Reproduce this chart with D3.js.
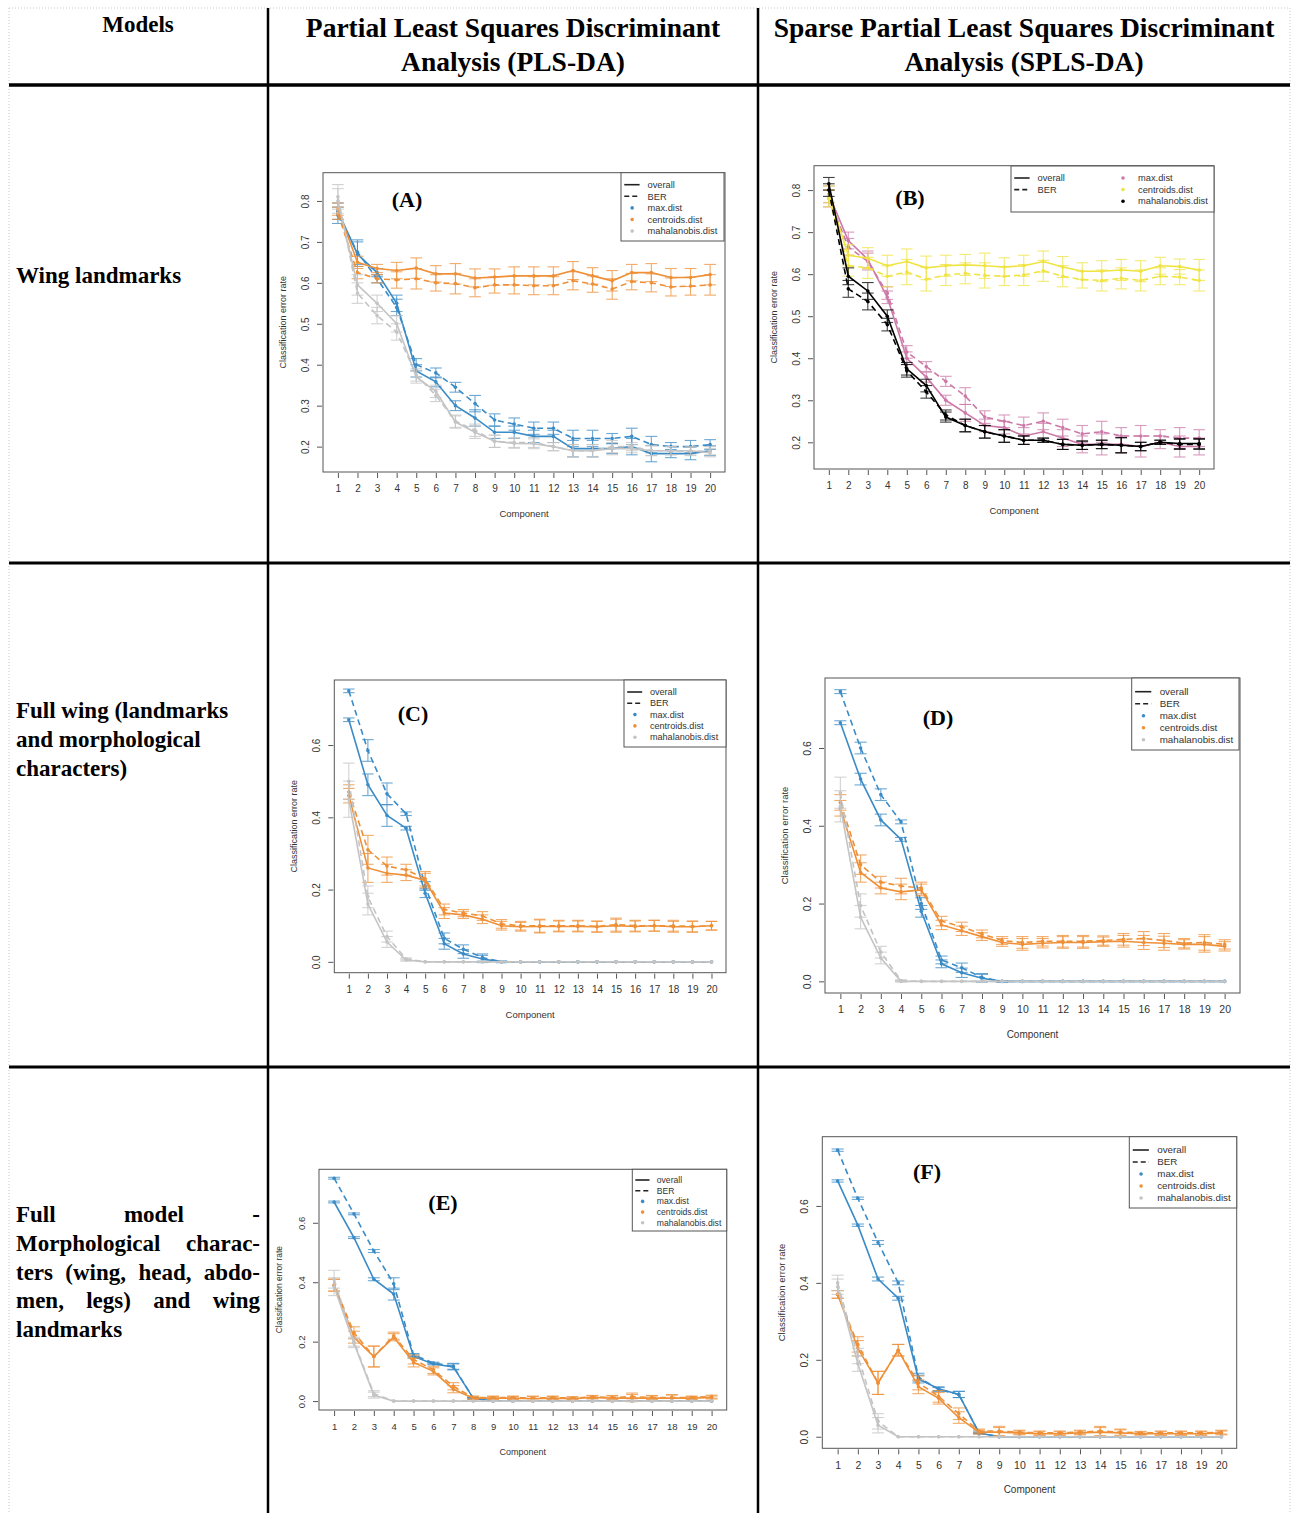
<!DOCTYPE html>
<html>
<head>
<meta charset="utf-8">
<script src="https://cdn.jsdelivr.net/npm/d3@7"></script>
<style>
    body { margin: 0; background: #fff; }
    svg { display: block; }
</style>
</head>
<body>
<div id="figure"></div>
<script>

// ---------- data ----------
const comps = [1, 2, 3, 4, 5, 6, 7, 8, 9, 10, 11, 12, 13, 14, 15, 16, 17, 18, 19, 20];
const ticksTop = [0.2, 0.3, 0.4, 0.5, 0.6, 0.7, 0.8];
const ticksLow = [0.0, 0.2, 0.4, 0.6];
const distNames = ["max.dist", "centroids.dist", "mahalanobis.dist"];

const colorsPLS = ["#3A8BC6", "#EE9038", "#C4C4C4"];
const colorsSPLS = ["#CC79A7", "#F0E442", "#000000"];

// (A) PLS-DA, wing landmarks
const aMaxOverall = [0.775, 0.67, 0.625, 0.55, 0.385, 0.358, 0.30, 0.27, 0.235, 0.235, 0.225, 0.225, 0.195, 0.195, 0.195, 0.20, 0.183, 0.183, 0.183, 0.19];
const aMaxBER = [0.765, 0.675, 0.61, 0.54, 0.40, 0.38, 0.345, 0.305, 0.265, 0.255, 0.245, 0.245, 0.22, 0.22, 0.22, 0.225, 0.205, 0.20, 0.20, 0.205];
const aMaxSd = [0.02, 0.03, 0.01, 0.02, 0.015, 0.012, 0.012, 0.02, 0.015, 0.015, 0.015, 0.015, 0.02, 0.02, 0.012, 0.02, 0.02, 0.01, 0.015, 0.012];
const aCentOverall = [0.78, 0.65, 0.635, 0.63, 0.636, 0.622, 0.622, 0.612, 0.614, 0.617, 0.617, 0.617, 0.63, 0.617, 0.605, 0.625, 0.625, 0.613, 0.613, 0.62];
const aCentBER = [0.77, 0.625, 0.61, 0.607, 0.61, 0.60, 0.598, 0.588, 0.595, 0.595, 0.593, 0.593, 0.605, 0.597, 0.585, 0.603, 0.60, 0.59, 0.592, 0.595];
const aCentSd = [0.015, 0.015, 0.01, 0.02, 0.025, 0.02, 0.025, 0.022, 0.02, 0.022, 0.022, 0.022, 0.022, 0.02, 0.025, 0.02, 0.022, 0.022, 0.022, 0.025];
const aMahaOverall = [0.80, 0.595, 0.55, 0.50, 0.37, 0.335, 0.26, 0.235, 0.213, 0.208, 0.207, 0.20, 0.19, 0.19, 0.195, 0.195, 0.19, 0.19, 0.19, 0.185];
const aMahaBER = [0.81, 0.575, 0.52, 0.48, 0.375, 0.325, 0.262, 0.24, 0.213, 0.21, 0.21, 0.20, 0.19, 0.19, 0.20, 0.20, 0.19, 0.19, 0.188, 0.19];
const aMahaSd = [0.03, 0.025, 0.02, 0.02, 0.015, 0.015, 0.015, 0.015, 0.015, 0.012, 0.012, 0.01, 0.015, 0.015, 0.015, 0.01, 0.012, 0.01, 0.01, 0.01];

// (B) SPLS-DA, wing landmarks
const bMaxOverall = [0.79, 0.68, 0.635, 0.545, 0.40, 0.355, 0.30, 0.27, 0.24, 0.235, 0.215, 0.225, 0.21, 0.195, 0.195, 0.195, 0.19, 0.20, 0.19, 0.19];
const bMaxBER = [0.78, 0.665, 0.63, 0.555, 0.415, 0.38, 0.345, 0.31, 0.26, 0.25, 0.24, 0.25, 0.235, 0.22, 0.225, 0.215, 0.215, 0.215, 0.21, 0.21];
const bMaxSd = [0.02, 0.02, 0.02, 0.015, 0.015, 0.012, 0.012, 0.02, 0.015, 0.015, 0.02, 0.02, 0.02, 0.02, 0.025, 0.02, 0.025, 0.015, 0.025, 0.02];
const bCentOverall = [0.79, 0.645, 0.638, 0.62, 0.63, 0.615, 0.62, 0.622, 0.62, 0.617, 0.62, 0.63, 0.617, 0.607, 0.607, 0.61, 0.607, 0.62, 0.618, 0.61];
const bCentBER = [0.78, 0.62, 0.615, 0.595, 0.605, 0.588, 0.598, 0.602, 0.597, 0.595, 0.598, 0.608, 0.595, 0.587, 0.585, 0.59, 0.585, 0.595, 0.593, 0.585];
const bCentSd = [0.02, 0.025, 0.025, 0.025, 0.03, 0.028, 0.025, 0.025, 0.03, 0.022, 0.025, 0.025, 0.025, 0.02, 0.025, 0.025, 0.025, 0.02, 0.018, 0.025];
const bMahaOverall = [0.815, 0.595, 0.56, 0.50, 0.375, 0.335, 0.26, 0.24, 0.225, 0.215, 0.205, 0.205, 0.195, 0.193, 0.195, 0.193, 0.19, 0.20, 0.197, 0.197];
const bMahaBER = [0.80, 0.565, 0.535, 0.48, 0.37, 0.32, 0.265, 0.24, 0.225, 0.215, 0.205, 0.205, 0.195, 0.193, 0.195, 0.193, 0.19, 0.20, 0.195, 0.195];
const bMahaSd = [0.015, 0.02, 0.02, 0.015, 0.015, 0.015, 0.012, 0.015, 0.015, 0.015, 0.01, 0.005, 0.012, 0.01, 0.01, 0.018, 0.01, 0.005, 0.012, 0.012];

// (C) PLS-DA, full wing
const cMaxOverall = [0.67, 0.49, 0.405, 0.37, 0.19, 0.05, 0.022, 0.008, 0, 0, 0, 0, 0, 0, 0, 0, 0, 0, 0, 0];
const cMaxBER = [0.75, 0.585, 0.465, 0.41, 0.21, 0.065, 0.035, 0.012, 0, 0, 0, 0, 0, 0, 0, 0, 0, 0, 0, 0];
const cMaxSd = [0.005, 0.03, 0.03, 0.005, 0.012, 0.015, 0.012, 0.01, 0.002, 0, 0, 0, 0, 0, 0, 0, 0, 0, 0, 0];
const cCentOverall = [0.46, 0.26, 0.245, 0.24, 0.225, 0.135, 0.13, 0.118, 0.10, 0.097, 0.098, 0.098, 0.098, 0.097, 0.10, 0.098, 0.10, 0.097, 0.097, 0.10];
const cCentBER = [0.47, 0.31, 0.265, 0.255, 0.23, 0.145, 0.135, 0.127, 0.105, 0.10, 0.10, 0.10, 0.10, 0.098, 0.103, 0.10, 0.10, 0.10, 0.098, 0.10];
const cCentSd = [0.02, 0.04, 0.025, 0.015, 0.02, 0.015, 0.01, 0.012, 0.012, 0.012, 0.018, 0.015, 0.015, 0.015, 0.018, 0.015, 0.015, 0.015, 0.015, 0.012];
const cMahaOverall = [0.45, 0.16, 0.055, 0.005, 0, 0, 0, 0, 0, 0, 0, 0, 0, 0, 0, 0, 0, 0, 0, 0];
const cMahaBER = [0.50, 0.18, 0.07, 0.008, 0, 0, 0, 0, 0, 0, 0, 0, 0, 0, 0, 0, 0, 0, 0, 0];
const cMahaSd = [0.05, 0.03, 0.015, 0.003, 0, 0, 0, 0, 0, 0, 0, 0, 0, 0, 0, 0, 0, 0, 0, 0];

// (D) SPLS-DA, full wing
const dMaxOverall = [0.665, 0.52, 0.415, 0.365, 0.18, 0.045, 0.022, 0.008, 0, 0, 0, 0, 0, 0, 0, 0, 0, 0, 0, 0];
const dMaxBER = [0.745, 0.60, 0.48, 0.41, 0.20, 0.055, 0.035, 0.01, 0, 0, 0, 0, 0, 0, 0, 0, 0, 0, 0, 0];
const dMaxSd = [0.005, 0.015, 0.015, 0.005, 0.015, 0.01, 0.012, 0.01, 0.002, 0, 0, 0, 0, 0, 0, 0, 0, 0, 0, 0];
const dCentOverall = [0.445, 0.28, 0.24, 0.23, 0.235, 0.145, 0.13, 0.115, 0.10, 0.095, 0.098, 0.10, 0.10, 0.102, 0.103, 0.10, 0.098, 0.095, 0.095, 0.09];
const dCentBER = [0.46, 0.30, 0.255, 0.245, 0.24, 0.155, 0.14, 0.122, 0.105, 0.10, 0.103, 0.103, 0.103, 0.105, 0.108, 0.11, 0.105, 0.098, 0.10, 0.095];
const dCentSd = [0.02, 0.025, 0.015, 0.02, 0.015, 0.012, 0.012, 0.01, 0.01, 0.015, 0.012, 0.015, 0.015, 0.012, 0.015, 0.018, 0.018, 0.012, 0.02, 0.012];
const dMahaOverall = [0.45, 0.165, 0.06, 0, 0, 0, 0, 0, 0, 0, 0, 0, 0, 0, 0, 0, 0, 0, 0, 0];
const dMahaBER = [0.485, 0.195, 0.075, 0.002, 0, 0, 0, 0, 0, 0, 0, 0, 0, 0, 0, 0, 0, 0, 0, 0];
const dMahaSd = [0.04, 0.03, 0.015, 0.002, 0, 0, 0, 0, 0, 0, 0, 0, 0, 0, 0, 0, 0, 0, 0, 0];

// (E) PLS-DA, full model
const eMaxOverall = [0.67, 0.55, 0.41, 0.36, 0.15, 0.125, 0.115, 0.01, 0, 0, 0, 0, 0, 0, 0, 0, 0, 0, 0, 0];
const eMaxBER = [0.75, 0.63, 0.505, 0.395, 0.155, 0.128, 0.117, 0.01, 0, 0, 0, 0, 0, 0, 0, 0, 0, 0, 0, 0];
const eMaxSd = [0.003, 0.003, 0.005, 0.02, 0.005, 0.003, 0.01, 0.002, 0, 0, 0, 0, 0, 0, 0, 0, 0, 0, 0, 0];
const eCentOverall = [0.39, 0.215, 0.15, 0.215, 0.13, 0.10, 0.04, 0.01, 0.01, 0.01, 0.008, 0.01, 0.008, 0.012, 0.01, 0.01, 0.01, 0.01, 0.01, 0.012];
const eCentBER = [0.39, 0.23, 0.15, 0.22, 0.14, 0.105, 0.05, 0.012, 0.012, 0.012, 0.01, 0.012, 0.01, 0.014, 0.012, 0.015, 0.012, 0.012, 0.012, 0.015];
const eCentSd = [0.02, 0.02, 0.035, 0.012, 0.015, 0.012, 0.012, 0.005, 0.005, 0.005, 0.007, 0.005, 0.005, 0.005, 0.007, 0.012, 0.007, 0.01, 0.005, 0.005];
const eMahaOverall = [0.385, 0.195, 0.02, 0, 0, 0, 0, 0, 0, 0, 0, 0, 0, 0, 0, 0, 0, 0, 0, 0];
const eMahaBER = [0.41, 0.20, 0.025, 0, 0, 0, 0, 0, 0, 0, 0, 0, 0, 0, 0, 0, 0, 0, 0, 0];
const eMahaSd = [0.03, 0.015, 0.01, 0, 0, 0, 0, 0, 0, 0, 0, 0, 0, 0, 0, 0, 0, 0, 0, 0];

// (F) SPLS-DA, full model
const fMaxOverall = [0.665, 0.55, 0.41, 0.36, 0.15, 0.125, 0.11, 0.01, 0, 0, 0, 0, 0, 0, 0, 0, 0, 0, 0, 0];
const fMaxBER = [0.745, 0.62, 0.505, 0.40, 0.155, 0.123, 0.11, 0.01, 0, 0, 0, 0, 0, 0, 0, 0, 0, 0, 0, 0];
const fMaxSd = [0.003, 0.003, 0.005, 0.005, 0.01, 0.005, 0.008, 0.002, 0, 0, 0, 0, 0, 0, 0, 0, 0, 0, 0, 0];
const fCentOverall = [0.37, 0.23, 0.14, 0.225, 0.13, 0.10, 0.05, 0.012, 0.012, 0.01, 0.008, 0.008, 0.01, 0.012, 0.01, 0.008, 0.008, 0.008, 0.008, 0.01];
const fCentBER = [0.37, 0.24, 0.14, 0.225, 0.14, 0.105, 0.06, 0.015, 0.015, 0.012, 0.01, 0.01, 0.012, 0.015, 0.012, 0.01, 0.01, 0.01, 0.01, 0.012];
const fCentSd = [0.01, 0.02, 0.03, 0.015, 0.018, 0.015, 0.015, 0.005, 0.012, 0.005, 0.005, 0.005, 0.005, 0.012, 0.008, 0.004, 0.005, 0.005, 0.005, 0.005];
const fMahaOverall = [0.39, 0.19, 0.03, 0, 0, 0, 0, 0, 0, 0, 0, 0, 0, 0, 0, 0, 0, 0, 0, 0];
const fMahaBER = [0.40, 0.21, 0.04, 0, 0, 0, 0, 0, 0, 0, 0, 0, 0, 0, 0, 0, 0, 0, 0, 0];
const fMahaSd = [0.02, 0.02, 0.02, 0, 0, 0, 0, 0, 0, 0, 0, 0, 0, 0, 0, 0, 0, 0, 0, 0];

// ---------- table layout ----------
const W = 1295, H = 1513;
const colX = [9, 268, 758, 1290];
const rowY = [8, 85, 563, 1067, 1513];

const svg = d3.select("#figure").append("svg")
    .attr("width", W)
    .attr("height", H);

// dotted outer border
svg.append("line").attr("x1", colX[0]).attr("x2", colX[3]).attr("y1", rowY[0]).attr("y2", rowY[0])
    .attr("stroke", "#c8c8c8").attr("stroke-dasharray", "1,2");
[colX[0], colX[3]].forEach(xx => {
    svg.append("line").attr("x1", xx).attr("x2", xx).attr("y1", rowY[0]).attr("y2", H)
        .attr("stroke", "#c8c8c8").attr("stroke-dasharray", "1,2");
});

// solid grid lines
[colX[1], colX[2]].forEach(xx => {
    svg.append("line").attr("x1", xx).attr("x2", xx).attr("y1", rowY[0]).attr("y2", H)
        .attr("stroke", "#000").attr("stroke-width", 2.5);
});
[rowY[1], rowY[2], rowY[3]].forEach((yy, i) => {
    svg.append("line").attr("x1", colX[0]).attr("x2", colX[3]).attr("y1", yy).attr("y2", yy)
        .attr("stroke", "#000").attr("stroke-width", i === 0 ? 3.5 : 3);
});

// header texts
const serif = "'Liberation Serif', 'Times New Roman', serif";
function headText(str, cx, by, size) {
    svg.append("text")
        .attr("x", cx).attr("y", by)
        .attr("text-anchor", "middle")
        .attr("font-family", serif)
        .attr("font-weight", "bold")
        .attr("font-size", size)
        .text(str);
}
headText("Models", 138, 32, 23);
headText("Partial Least Squares Discriminant", 513, 37, 27.5);
headText("Analysis (PLS-DA)", 513, 71, 27.5);
headText("Sparse Partial Least Squares Discriminant", 1024, 37, 27.5);
headText("Analysis (SPLS-DA)", 1024, 71, 27.5);

// row labels
function rowText(str, by) {
    return svg.append("text")
        .attr("x", 16).attr("y", by)
        .attr("font-family", serif)
        .attr("font-weight", "bold")
        .attr("font-size", 23)
        .text(str);
}
rowText("Wing landmarks", 283);
rowText("Full wing (landmarks", 718);
rowText("and morphological", 747);
rowText("characters)", 776);

// justified block for the last row
function justified(words, by, x0, x1) {
    let nodes = words.map(w => svg.append("text")
        .attr("y", by)
        .attr("font-family", serif)
        .attr("font-weight", "bold")
        .attr("font-size", 23)
        .text(w));
    let widths = nodes.map(n => n.node().getComputedTextLength());
    let gap = (x1 - x0 - d3.sum(widths)) / (words.length - 1);
    let cur = x0;
    nodes.forEach((n, i) => {
        n.attr("x", cur);
        cur += widths[i] + gap;
    });
}
justified(["Full", "model", "-"], 1222, 16, 260);
justified(["Morphological", "charac-"], 1251, 16, 260);
justified(["ters", "(wing,", "head,", "abdo-"], 1280, 16, 260);
justified(["men,", "legs)", "and", "wing"], 1308, 16, 260);
rowText("landmarks", 1337);

// ---------- panels ----------
const panels = [
    {label: "(A)", labelPos: [407, 207], box: [323, 172.7, 725, 472], yDomain: [0.138, 0.869], ticks: ticksTop, fs: 10,
     colors: colorsPLS,
     series: [[aMaxOverall, aMaxBER, aMaxSd], [aCentOverall, aCentBER, aCentSd], [aMahaOverall, aMahaBER, aMahaSd]],
     legend: {x: 621, y: 172.7, w: 103, h: 68.3, row0: 184.7, dy: 11.6, fs: 9.3}},
    {label: "(B)", labelPos: [910, 205], box: [814, 165.7, 1214, 469], yDomain: [0.1365, 0.858], ticks: ticksTop, fs: 10,
     colors: colorsSPLS,
     series: [[bMaxOverall, bMaxBER, bMaxSd], [bCentOverall, bCentBER, bCentSd], [bMahaOverall, bMahaBER, bMahaSd]],
     legend: {x: 1011, y: 166, w: 203, h: 46, row0: 178, dy: 11.6, fs: 9.3, twoCol: true}},
    {label: "(C)", labelPos: [413, 721], box: [334.3, 680, 726, 972.7], yDomain: [-0.03, 0.78], ticks: ticksLow, fs: 10,
     colors: colorsPLS,
     series: [[cMaxOverall, cMaxBER, cMaxSd], [cCentOverall, cCentBER, cCentSd], [cMahaOverall, cMahaBER, cMahaSd]],
     legend: {x: 624, y: 680, w: 102, h: 67, row0: 692, dy: 11.3, fs: 9.1}},
    {label: "(D)", labelPos: [938, 725], box: [825, 678, 1240, 993], yDomain: [-0.03, 0.78], ticks: ticksLow, fs: 10.5,
     colors: colorsPLS,
     series: [[dMaxOverall, dMaxBER, dMaxSd], [dCentOverall, dCentBER, dCentSd], [dMahaOverall, dMahaBER, dMahaSd]],
     legend: {x: 1131.7, y: 678, w: 107.3, h: 72, row0: 691.7, dy: 12, fs: 9.8}},
    {label: "(E)", labelPos: [443, 1210], box: [319, 1169.3, 726.7, 1410], yDomain: [-0.03, 0.78], ticks: ticksLow, fs: 9.5,
     colors: colorsPLS,
     series: [[eMaxOverall, eMaxBER, eMaxSd], [eCentOverall, eCentBER, eCentSd], [eMahaOverall, eMahaBER, eMahaSd]],
     legend: {x: 632.3, y: 1169.3, w: 94.4, h: 61.7, row0: 1180, dy: 10.7, fs: 8.6}},
    {label: "(F)", labelPos: [927, 1179], box: [822.3, 1136.7, 1236.7, 1448.3], yDomain: [-0.03, 0.78], ticks: ticksLow, fs: 10.5,
     colors: colorsPLS,
     series: [[fMaxOverall, fMaxBER, fMaxSd], [fCentOverall, fCentBER, fCentSd], [fMahaOverall, fMahaBER, fMahaSd]],
     legend: {x: 1129.3, y: 1136.7, w: 107.4, h: 71.3, row0: 1150, dy: 12, fs: 9.8}}
];

const sans = "'Liberation Sans', Arial, sans-serif";
const fmt = d3.format(".1f");

function drawPanel(p) {
    let g = svg.append("g");
    let [x0, y0, x1, y1] = p.box;

    // R adds 4% on each side of the data range
    let x = d3.scaleLinear().domain([0.24, 20.76]).range([x0, x1]);
    let y = d3.scaleLinear().domain(p.yDomain).range([y1, y0]);

    // x axis
    let xAxisG = g.append("g")
        .attr("transform", `translate(0, ${y1 + 1})`)
        .call(d3.axisBottom(x).tickValues(comps).tickSize(5).tickPadding(7).tickFormat(d3.format("d")));
    xAxisG.select(".domain").remove();
    xAxisG.selectAll("line").attr("stroke", "#555");
    xAxisG.selectAll("text").attr("font-family", sans).attr("font-size", p.fs).attr("fill", "#333");

    // y axis with labels parallel to the axis
    let yAxisG = g.append("g")
        .attr("transform", `translate(${x0 - 1}, 0)`)
        .call(d3.axisLeft(y).tickValues(p.ticks).tickSize(5).tickFormat(fmt));
    yAxisG.select(".domain").remove();
    yAxisG.selectAll("line").attr("stroke", "#555");
    yAxisG.selectAll("text")
        .attr("font-family", sans).attr("font-size", p.fs).attr("fill", "#333")
        .attr("text-anchor", "middle")
        .attr("transform", "rotate(-90)")
        .attr("x", 0).attr("y", -13).attr("dy", 0);

    // frame
    g.append("rect")
        .attr("x", x0).attr("y", y0)
        .attr("width", x1 - x0).attr("height", y1 - y0)
        .attr("fill", "none").attr("stroke", "#555").attr("stroke-width", 1);

    // axis titles
    g.append("text")
        .attr("x", (x0 + x1) / 2).attr("y", y1 + 45)
        .attr("text-anchor", "middle")
        .attr("font-family", sans).attr("font-size", p.fs - 0.5).attr("fill", "#333")
        .text("Component");
    g.append("text")
        .attr("transform", `translate(${x0 - 37}, ${(y0 + y1) / 2}) rotate(-90)`)
        .attr("text-anchor", "middle")
        .attr("font-family", sans).attr("font-size", p.fs - 1).attr("fill", "#333")
        .text("Classification error rate");

    let cap = (x(2) - x(1)) * 0.3;
    let line = d3.line()
        .x((d, i) => x(comps[i]))
        .y(d => y(d));

    p.series.forEach((s, k) => {
        let col = p.colors[k];
        let [overall, ber, sd] = s;

        [overall, ber].forEach((vals, j) => {
            // error bars
            let eb = g.append("g").attr("stroke", col).attr("stroke-width", 1.1).attr("opacity", 0.75);
            vals.forEach((v, i) => {
                if (sd[i] <= 0) return;
                let cx = x(comps[i]);
                eb.append("line").attr("x1", cx).attr("x2", cx).attr("y1", y(v - sd[i])).attr("y2", y(v + sd[i]));
                eb.append("line").attr("x1", cx - cap).attr("x2", cx + cap).attr("y1", y(v - sd[i])).attr("y2", y(v - sd[i]));
                eb.append("line").attr("x1", cx - cap).attr("x2", cx + cap).attr("y1", y(v + sd[i])).attr("y2", y(v + sd[i]));
            });

            g.append("path")
                .datum(vals)
                .attr("d", line)
                .attr("fill", "none")
                .attr("stroke", col)
                .attr("stroke-width", 1.6)
                .attr("stroke-dasharray", j === 1 ? "6,4" : null);

            g.selectAll(null)
                .data(vals)
                .join("circle")
                .attr("cx", (d, i) => x(comps[i]))
                .attr("cy", d => y(d))
                .attr("r", 1.8)
                .attr("fill", col);
        });
    });

    // panel letter
    g.append("text")
        .attr("x", p.labelPos[0]).attr("y", p.labelPos[1])
        .attr("text-anchor", "middle")
        .attr("font-family", serif).attr("font-weight", "bold")
        .attr("font-size", 22)
        .text(p.label);

    // legend
    let L = p.legend;
    let lg = g.append("g");
    lg.append("rect")
        .attr("x", L.x).attr("y", L.y).attr("width", L.w).attr("height", L.h)
        .attr("fill", "#fff").attr("stroke", "#555");
    let f = L.fs;
    let lineItems = [["overall", null], ["BER", "5,3"]];
    let dotX = L.twoCol ? L.x + 112 : L.x + 1.2 * f;
    let dotTextX = L.twoCol ? L.x + 127 : L.x + 2.85 * f;

    lineItems.forEach((it, i) => {
        let ry = L.row0 + i * L.dy;
        lg.append("line")
            .attr("x1", L.x + 0.35 * f).attr("x2", L.x + 2.0 * f)
            .attr("y1", ry).attr("y2", ry)
            .attr("stroke", "#222").attr("stroke-width", 1.6)
            .attr("stroke-dasharray", it[1]);
        lg.append("text")
            .attr("x", L.x + 2.85 * f).attr("y", ry).attr("dy", "0.35em")
            .attr("font-family", sans).attr("font-size", f).attr("fill", "#333")
            .text(it[0]);
    });
    distNames.forEach((nm, i) => {
        let ry = L.row0 + (L.twoCol ? i : i + 2) * L.dy;
        lg.append("circle")
            .attr("cx", dotX).attr("cy", ry).attr("r", 1.8)
            .attr("fill", p.colors[i]);
        lg.append("text")
            .attr("x", dotTextX).attr("y", ry).attr("dy", "0.35em")
            .attr("font-family", sans).attr("font-size", f).attr("fill", "#333")
            .text(nm);
    });
}

panels.forEach(drawPanel);

</script>
</body>
</html>
